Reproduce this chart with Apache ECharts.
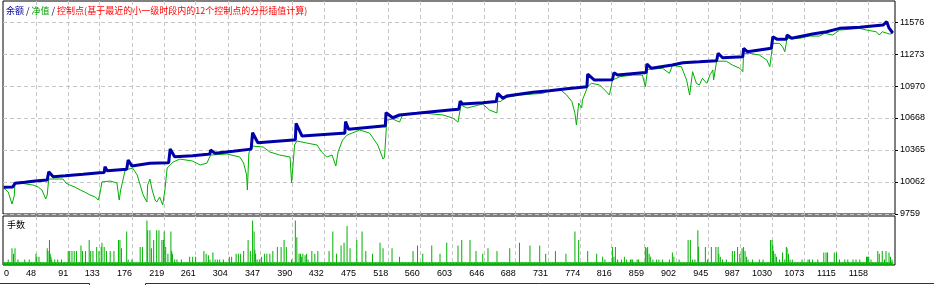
<!DOCTYPE html>
<html><head><meta charset="utf-8">
<script src="https://cdn.jsdelivr.net/npm/echarts@6/dist/echarts.min.js"></script>
<style>html,body{margin:0;padding:0;background:#fff}#c{width:934px;height:285px}</style>
</head><body><div id="c"></div><script>
const legendParts = ['余额', '/', '净值', '/', '控制点(基于最近的小一级时段内的12个控制点的分形插值计算)'];
const lowerPaneTitle = '手数';
const xTickLabels = ['0','48','91','133','176','219','261','304','347','390','432','475','518','560','603','646','688','731','774','816','859','902','945','987','1030','1073','1115','1158'];
const yTickLabels = ['9759','10062','10365','10668','10970','11273','11576'];

// balance: [trade #, value]
const balance = [[5,10012],[17,10015],[19,10017],[20,10050],[33,10059],[47,10071],[63,10081],[64,10083],[65,10159],[71,10112],[87,10121],[111,10135],[133,10150],[139,10152],[140,10207],[143,10169],[169,10182],[170,10184],[171,10270],[176,10213],[200,10239],[225,10243],[226,10244],[227,10374],[233,10301],[257,10311],[277,10324],[280,10326],[281,10365],[287,10333],[311,10352],[335,10373],[337,10528],[344,10434],[391,10459],[394,10460],[395,10617],[403,10497],[457,10523],[460,10524],[461,10633],[465,10561],[511,10592],[514,10593],[515,10718],[517,10718],[524,10670],[533,10696],[556,10712],[600,10743],[612,10750],[613,10750],[614,10828],[617,10800],[644,10812],[662,10824],[664,10901],[671,10854],[676,10876],[711,10911],[733,10926],[756,10945],[783,10964],[784,11084],[793,11027],[817,11030],[818,11031],[819,11096],[824,11074],[857,11096],[862,11098],[863,11179],[869,11138],[897,11169],[911,11191],[933,11200],[956,11210],[957,11211],[958,11280],[964,11238],[991,11248],[992,11327],[997,11295],[1029,11327],[1030,11328],[1031,11437],[1037,11412],[1049,11412],[1050,11453],[1056,11422],[1084,11462],[1103,11484],[1120,11516],[1147,11526],[1164,11538],[1178,11547],[1183,11579],[1186,11520],[1191,11472]];

// equity: [trade #, value]
const equity = [[5,10005],[11,9967],[16,9854],[19,9929],[20,10052],[27,10052],[44,10033],[51,10014],[56,9986],[61,9901],[63,9939],[65,10090],[73,10090],[84,10090],[88,10052],[93,10033],[100,10014],[107,9986],[113,9967],[120,9939],[127,9920],[131,9891],[133,9939],[136,10062],[147,10071],[156,10052],[159,9891],[161,9986],[167,10175],[177,10194],[183,10128],[187,10033],[191,9939],[196,9872],[197,10033],[200,10090],[203,9986],[207,9891],[209,9872],[213,9920],[217,9844],[220,9986],[223,10194],[231,10251],[240,10279],[257,10260],[267,10223],[276,10241],[281,10317],[303,10327],[320,10298],[325,10241],[329,10128],[330,9986],[332,10336],[337,10402],[351,10393],[360,10346],[373,10317],[387,10298],[389,10052],[393,10412],[396,10450],[409,10431],[423,10412],[429,10346],[436,10298],[443,10317],[448,10213],[451,10346],[457,10459],[463,10506],[480,10554],[493,10525],[504,10412],[511,10279],[513,10298],[516,10648],[524,10658],[533,10629],[537,10696],[547,10705],[564,10715],[591,10696],[604,10667],[611,10629],[615,10790],[623,10762],[644,10800],[653,10743],[663,10715],[664,10828],[667,10822],[676,10863],[693,10885],[724,10901],[733,10926],[747,10939],[756,10885],[763,10822],[767,10712],[769,10601],[772,10809],[776,10762],[777,10838],[784,10964],[789,10996],[800,10980],[809,10916],[813,10885],[817,11027],[827,11058],[844,11074],[857,11074],[861,10964],[864,11128],[884,11138],[893,11090],[897,11165],[909,11153],[916,11027],[920,10885],[924,11106],[929,10996],[933,10980],[937,11043],[943,10996],[947,11074],[951,11122],[952,11027],[956,11205],[969,11205],[977,11169],[987,11138],[991,11106],[992,11280],[1000,11280],[1013,11264],[1023,11216],[1027,11153],[1031,11374],[1040,11374],[1044,11342],[1047,11295],[1050,11422],[1067,11422],[1080,11443],[1093,11443],[1100,11469],[1111,11453],[1120,11500],[1147,11516],[1156,11500],[1169,11484],[1173,11453],[1177,11484],[1187,11462],[1191,11469]];

// lots per trade: smallest lot, and the trades with larger lots
const lotsMin = 0.01;
const firstTrade = 5, lastTrade = 1191;
const lotsPeaks = [[11,0.02],[16,0.06],[18,0.04],[20,0.06],[24,0.02],[33,0.02],[39,0.02],[48,0.04],[49,0.03],[52,0.03],[63,0.06],[64,0.05],[66,0.09],[67,0.04],[68,0.03],[69,0.02],[73,0.02],[77,0.02],[82,0.02],[91,0.05],[93,0.05],[96,0.05],[99,0.05],[102,0.05],[108,0.07],[110,0.05],[114,0.05],[119,0.09],[121,0.05],[124,0.05],[129,0.065],[132,0.05],[135,0.065],[136,0.08],[139,0.065],[142,0.05],[147,0.05],[152,0.05],[158,0.09],[160,0.09],[162,0.06],[169,0.12],[171,0.02],[176,0.02],[187,0.065],[190,0.065],[196,0.16],[197,0.125],[200,0.125],[202,0.06],[205,0.09],[209,0.125],[212,0.125],[216,0.09],[218,0.09],[219,0.12],[221,0.065],[224,0.04],[228,0.12],[229,0.05],[230,0.04],[233,0.02],[236,0.02],[242,0.02],[253,0.03],[257,0.03],[261,0.03],[272,0.05],[275,0.04],[278,0.035],[280,0.02],[284,0.045],[287,0.02],[290,0.02],[293,0.02],[298,0.02],[306,0.03],[309,0.03],[315,0.04],[318,0.04],[321,0.04],[325,0.05],[331,0.09],[334,0.05],[337,0.16],[339,0.12],[340,0.055],[341,0.04],[343,0.02],[346,0.02],[349,0.03],[353,0.04],[356,0.04],[360,0.04],[364,0.05],[370,0.065],[375,0.065],[379,0.09],[382,0.065],[389,0.02],[394,0.16],[396,0.10],[399,0.04],[401,0.04],[402,0.03],[404,0.04],[407,0.035],[409,0.04],[411,0.02],[416,0.05],[420,0.04],[424,0.05],
[439,0.05],[444,0.12],[449,0.04],[455,0.07],[459,0.08],[463,0.14],[467,0.06],[476,0.09],[483,0.12],[488,0.05],[497,0.04],[507,0.08],[511,0.06],[523,0.06],[533,0.03],[551,0.05],[557,0.07],[564,0.04],[576,0.07],[587,0.04],[596,0.08],[611,0.07],[616,0.09],[627,0.09],[635,0.05],[644,0.04],[651,0.06],[663,0.05],[680,0.06],[693,0.08],[707,0.07],[720,0.07],[728,0.04],[741,0.05],[755,0.04],[767,0.12],[772,0.09],[784,0.05],[796,0.04],
[804,0.03],[807,0.02],[817,0.065],[819,0.03],[821,0.065],[824,0.02],[829,0.02],[833,0.03],[836,0.02],[841,0.02],[842,0.02],[844,0.02],[850,0.02],[852,0.02],[861,0.065],[863,0.06],[864,0.065],[866,0.04],[868,0.03],[871,0.02],[876,0.02],[879,0.02],[884,0.02],[893,0.02],[897,0.045],[899,0.03],[906,0.02],[918,0.09],[921,0.09],[924,0.02],[927,0.02],[931,0.125],[932,0.065],[941,0.065],[944,0.02],[949,0.065],[955,0.065],[958,0.065],[959,0.04],[961,0.03],[964,0.02],[969,0.02],[977,0.05],[980,0.05],[984,0.065],[987,0.04],[990,0.06],[992,0.065],[994,0.05],[996,0.03],[998,0.02],[1004,0.02],[1013,0.02],[1018,0.02],[1028,0.09],[1030,0.09],[1031,0.07],[1032,0.05],[1034,0.04],[1036,0.03],[1040,0.02],[1044,0.045],[1047,0.02],[1049,0.065],[1050,0.06],[1052,0.04],[1054,0.02],[1057,0.02],[1070,0.02],[1078,0.02],[1080,0.02],[1084,0.02],[1091,0.02],[1099,0.045],[1102,0.045],[1104,0.045],[1113,0.045],[1116,0.045],[1120,0.02],[1127,0.02],[1131,0.02],[1138,0.02],[1142,0.02],[1147,0.02],[1156,0.03],[1157,0.03],[1158,0.03],[1159,0.03],[1162,0.02],[1171,0.05],[1173,0.04],[1177,0.05],[1180,0.02],[1182,0.05],[1186,0.045],[1188,0.03],[1190,0.02]];

const peakMap = new Map(lotsPeaks);
const lots = [];
for (let i = firstTrade; i <= lastTrade; i++) lots.push([i, peakMap.has(i) ? peakMap.get(i) : lotsMin]);

const xTickValues = xTickLabels.slice(1).map(Number);
const yTickValues = yTickLabels.map(Number);
const NUMFONT = 'Liberation Sans';
const CJK = 'Noto Sans CJK SC';
const gridDash = {type: [4, 3], color: '#c6c6c6', width: 1};

function xAxisDef(gridIndex, showLabels) {
  return {
    type: 'value', gridIndex, min: 4, max: 1194,
    axisLine: {show: false},
    axisTick: {show: false, customValues: xTickValues},
    splitLine: {show: true, lineStyle: gridDash},
    axisLabel: {
      show: showLabels, customValues: xTickValues, align: 'right', margin: 4,
      fontFamily: NUMFONT, fontSize: 9, color: '#000',
      formatter: v => xTickLabels[xTickValues.indexOf(v) + 1]
    }
  };
}

const chart = echarts.init(document.getElementById('c'), null, {renderer: 'canvas'});
chart.setOption({
  animation: false,
  backgroundColor: '#fff',
  title: {
    left: 6, top: 6, padding: 0,
    text: '{b|' + legendParts[0] + '} {k|' + legendParts[1] + '} {g|' + legendParts[2] + '} {k|' + legendParts[3] + '} {r|' + legendParts[4] + '}',
    textStyle: {
      fontSize: 9, fontFamily: CJK, fontWeight: 'normal',
      rich: {
        b: {color: '#0000a0', fontSize: 9, fontFamily: CJK},
        k: {color: '#000060', fontSize: 9, fontFamily: CJK},
        g: {color: '#00a000', fontSize: 9, fontFamily: CJK},
        r: {color: '#ff0000', fontSize: 9, fontFamily: CJK}
      }
    }
  },
  grid: [
    {left: 3, top: 1, width: 892, height: 213, show: true, borderColor: '#000', borderWidth: 1, backgroundColor: 'transparent'},
    {left: 3, top: 216, width: 892, height: 49, show: true, borderColor: '#000', borderWidth: 1, backgroundColor: 'transparent'}
  ],
  xAxis: [xAxisDef(0, false), xAxisDef(1, true)],
  yAxis: [
    {
      type: 'value', gridIndex: 0, position: 'right', min: 9759, max: 11775,
      axisLine: {show: false},
      axisTick: {show: true, length: 3, customValues: yTickValues, lineStyle: {color: '#000'}},
      splitLine: {show: true, lineStyle: gridDash},
      axisLabel: {customValues: yTickValues, margin: 5, fontFamily: NUMFONT, fontSize: 9, color: '#000',
        formatter: v => yTickLabels[yTickValues.indexOf(v)]}
    },
    {
      type: 'value', gridIndex: 1, min: 0, max: 0.176,
      axisLine: {show: false}, axisTick: {show: false}, axisLabel: {show: false}, splitLine: {show: false}
    }
  ],
  series: [
    {name: '净值', type: 'line', xAxisIndex: 0, yAxisIndex: 0, data: equity, showSymbol: false, z: 2,
      lineStyle: {color: '#00b000', width: 1}, itemStyle: {color: '#00b000'}},
    {name: '余额', type: 'line', xAxisIndex: 0, yAxisIndex: 0, data: balance, showSymbol: false, z: 3,
      lineStyle: {color: '#0000aa', width: 3}, itemStyle: {color: '#0000aa'}},
    {name: '手数', type: 'bar', xAxisIndex: 1, yAxisIndex: 1, data: lots, barWidth: 1, z: 2,
      itemStyle: {color: '#00b000'}}
  ],
  graphic: [
    {type: 'text', left: 4, top: 269, style: {text: xTickLabels[0], font: '9px "Liberation Sans"', fill: '#000'}},
    {type: 'text', left: 7, top: 220, style: {text: lowerPaneTitle, font: '9px "Noto Sans CJK SC"', fill: '#000'}},
    {type: 'line', shape: {x1: 0, y1: 283.5, x2: 89.5, y2: 283.5}, style: {stroke: '#333', lineWidth: 1}},
    {type: 'line', shape: {x1: 89.5, y1: 283.5, x2: 89.5, y2: 285}, style: {stroke: '#333', lineWidth: 1}},
    {type: 'line', shape: {x1: 145.5, y1: 283.5, x2: 934, y2: 283.5}, style: {stroke: '#333', lineWidth: 1}},
    {type: 'line', shape: {x1: 145.5, y1: 283.5, x2: 145.5, y2: 285}, style: {stroke: '#333', lineWidth: 1}}
  ]
});
</script></body></html>
